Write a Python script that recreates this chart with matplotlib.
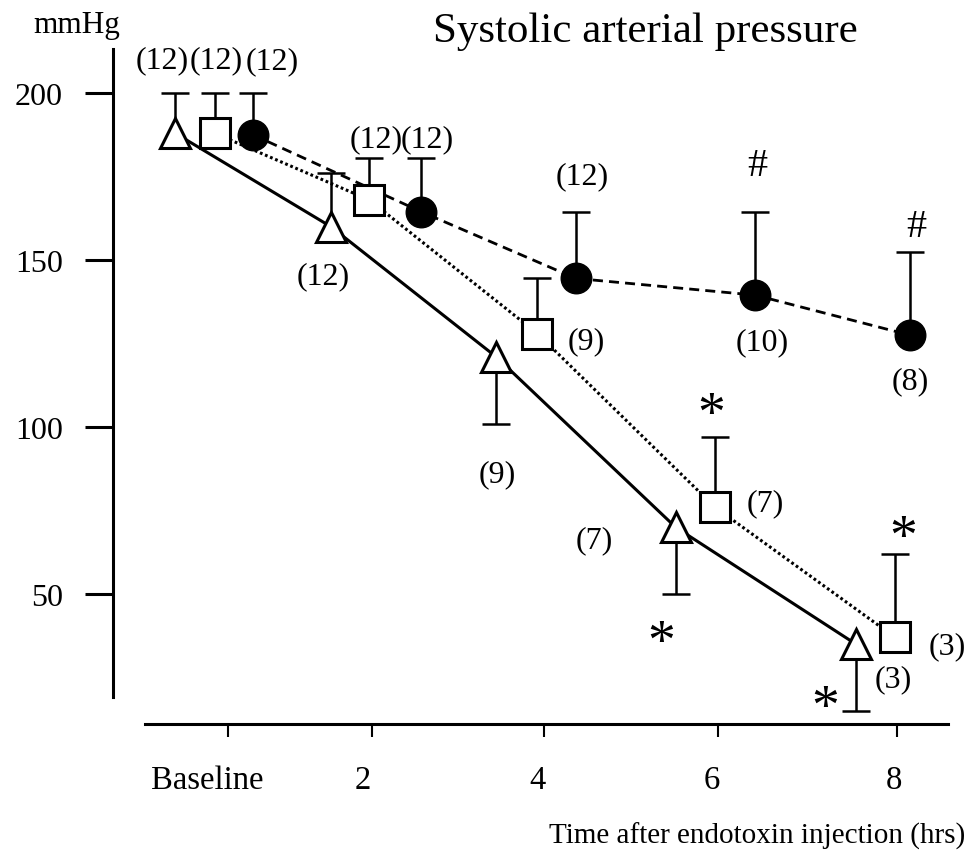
import numpy as np
import matplotlib
matplotlib.use("Agg")
import matplotlib.pyplot as plt
from matplotlib.transforms import ScaledTranslation

plt.rcParams['font.family'] = ['Liberation Serif', 'DejaVu Serif']

# time axis ticks (hours after injection)
tick_pos = [0.35, 2.0, 3.97, 5.95, 8.0]
tick_labels = ['Baseline', '2', '4', '6', '8']

# open triangles
tri_x = [-0.25, 1.53, 3.42, 5.47, 7.53]
tri_y = [188, 160, 121, 70, 35]
tri_err_up = [12, 16, 0, 0, 0]
tri_err_down = [0, 0, 20, 20, 20]
tri_n = ['(12)', '(12)', '(9)', '(7)', '(3)']
tri_sig = ['', '', '', '*', '*']

# open squares
sq_x = [0.20, 1.97, 3.89, 5.92, 7.98]
sq_y = [188, 168, 128, 76, 37]
sq_err_up = [12, 12.5, 16.5, 21, 25]
sq_err_down = [0, 0, 0, 0, 0]
sq_n = ['(12)', '(12)', '(9)', '(7)', '(3)']
sq_sig = ['', '', '', '*', '*']

# filled circles
circ_x = [0.64, 2.56, 4.33, 6.38, 8.15]
circ_y = [187.5, 164.5, 144.5, 139.5, 127.5]
circ_err_up = [12.5, 16, 20, 25, 25]
circ_err_down = [0, 0, 0, 0, 0]
circ_n = ['(12)', '(12)', '(12)', '(10)', '(8)']
circ_sig = ['', '', '', '#', '#']

fig = plt.figure(figsize=(9.71, 8.62), dpi=100)
ax = fig.add_axes([113/971, 1 - 725/862, (960 - 113)/971, (725 - 50)/862])
ax.set_xlim(-0.96, 8.72)
ax.set_ylim(11.08, 213.2)


def draw_err(x, y, lo, hi):
    x, y, lo, hi = map(np.asarray, (x, y, lo, hi))
    style = dict(fmt='none', ecolor='black', elinewidth=1.8, capsize=9.8,
                 capthick=1.8, zorder=2)
    up = hi > 0
    if up.any():
        eb = ax.errorbar(x[up], y[up], yerr=[np.zeros(up.sum()), hi[up]], **style)
        eb[1][0].set_visible(False)
    down = lo > 0
    if down.any():
        eb = ax.errorbar(x[down], y[down], yerr=[lo[down], np.zeros(down.sum())], **style)
        eb[1][1].set_visible(False)


draw_err(tri_x, tri_y, tri_err_down, tri_err_up)
draw_err(sq_x, sq_y, sq_err_down, sq_err_up)
draw_err(circ_x, circ_y, circ_err_down, circ_err_up)

ax.plot(tri_x, tri_y, color='black', lw=2.2, ls='-', zorder=2)
ax.plot(sq_x, sq_y, color='black', lw=2.2, ls=(0, (0.9, 0.9)), zorder=2)
ax.plot(circ_x, circ_y, color='black', lw=2, ls=(0, (3.6, 2.2)), zorder=2)

ax.plot(tri_x, tri_y, ls='none', marker='^', ms=21, mfc='white', mec='black', mew=2.2, zorder=3)
ax.plot(sq_x, sq_y, ls='none', marker='s', ms=21, mfc='white', mec='black', mew=2.2, zorder=3)
ax.plot(circ_x, circ_y, ls='none', marker='o', ms=22, mfc='black', mec='black', mew=1, zorder=3)

# sample-size labels, offsets in pixels (x right, y up)
tri_off = [(-13, 73), (-8, -49), (1, -117), (-81, -12), (37, -35)]
sq_off = [(2, 73), (7, 61), (49, -7), (50, 4), (52, -8)]
circ_off = [(19, 74), (6, 73), (6, 103), (7, -47), (0, -46)]

for xs, ys, labels, offs in [(tri_x, tri_y, tri_n, tri_off),
                             (sq_x, sq_y, sq_n, sq_off),
                             (circ_x, circ_y, circ_n, circ_off)]:
    for x, y, t, (dx, dy) in zip(xs, ys, labels, offs):
        ax.annotate(t, xy=(x, y), xytext=(dx*0.72, dy*0.72), textcoords='offset points',
                    ha='center', va='center', fontsize=23)

# significance marks, offsets to the centre of the symbol in pixels
tri_sig_off = [None, None, None, (-14, -105), (-31, -53)]
sq_sig_off = [None, None, None, (-4, 103), (8, 110)]
circ_sig_off = [None, None, None, (2, 134), (6, 113)]

for xs, ys, marks, offs in [(tri_x, tri_y, tri_sig, tri_sig_off),
                            (sq_x, sq_y, sq_sig, sq_sig_off),
                            (circ_x, circ_y, circ_sig, circ_sig_off)]:
    for x, y, m, off in zip(xs, ys, marks, offs):
        if not m:
            continue
        dx, dy = off
        if m == '*':
            size, lift = 40, 26
        else:
            size, lift = 29, 14
        ax.annotate(m, xy=(x, y), xytext=(dx*0.72, (dy - lift)*0.72), textcoords='offset points',
                    ha='center', va='baseline', fontsize=size)

# axes
for s in ['top', 'right']:
    ax.spines[s].set_visible(False)
ax.spines['left'].set_linewidth(2.2)
ax.spines['bottom'].set_linewidth(2.2)
ax.spines['left'].set_bounds(19.2, 213.2)
ax.spines['bottom'].set_bounds(-0.594, 8.58)

ax.set_yticks([50, 100, 150, 200])
ax.tick_params(axis='y', direction='out', length=20, width=2.2, pad=16, labelsize=23)
ax.set_xticks(tick_pos)
ax.set_xticklabels(tick_labels)
ax.tick_params(axis='x', direction='out', length=9.4, width=1.5, pad=20, labelsize=23.5)
label_shift = [-20, -9, -7, -6, -3]
for lab, sh in zip(ax.get_xticklabels(), label_shift):
    lab.set_transform(lab.get_transform() + ScaledTranslation(sh/100, 0, fig.dpi_scale_trans))

fig.text(77/971, 1 - 25/862, 'mmHg', ha='center', va='center', fontsize=22.5)
fig.text(645/971, 1 - 32/862, 'Systolic arterial pressure', ha='center', va='center', fontsize=31)
fig.text(965/971, 1 - 836/862, 'Time after endotoxin injection (hrs)', ha='right', va='center', fontsize=21)

fig.savefig('out.png', dpi=100)
